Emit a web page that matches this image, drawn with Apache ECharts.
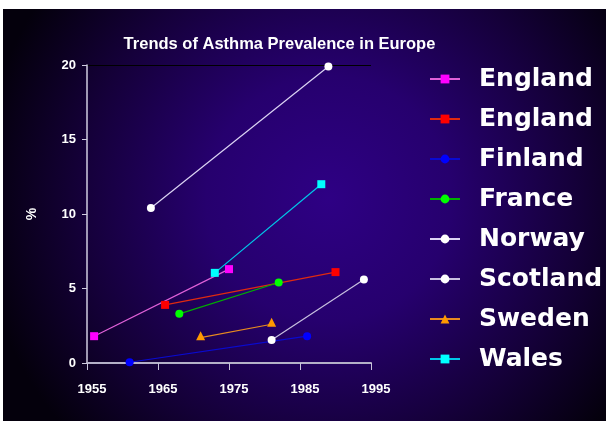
<!DOCTYPE html>
<html>
<head>
<meta charset="utf-8">
<script src="https://cdn.jsdelivr.net/npm/echarts@6/dist/echarts.min.js"></script>
<style>
  html, body { margin: 0; padding: 0; background: #ffffff; }
  #chart-container { width: 606px; height: 423px; }
</style>
</head>
<body>
<div id="chart-container"></div>
<script>
var dom = document.getElementById("chart-container");
var myChart = echarts.init(dom, null, { renderer: "canvas" });

// series names, in legend order
var names = ["England", "England", "Finland", "France", "Norway", "Scotland", "Sweden", "Wales"];

// survey years and prevalence (%) per series
var englandAYears = [1956, 1975];
var englandAVals = [1.8, 6.3];
var englandBYears = [1966, 1990];
var englandBVals = [3.9, 6.1];
var finlandYears = [1961, 1986];
var finlandVals = [0.05, 1.8];
var franceYears = [1968, 1982];
var franceVals = [3.3, 5.4];
var norwayYears = [1964, 1989];
var norwayVals = [10.4, 19.9];
var scotlandYears = [1981, 1994];
var scotlandVals = [1.55, 5.6];
var swedenYears = [1971, 1981];
var swedenVals = [1.7, 2.6];
var walesYears = [1973, 1988];
var walesVals = [6.05, 12];

var xTicks = [1955, 1965, 1975, 1985, 1995];

function pairs(xs, ys) {
  return xs.map(function (x, i) { return [x, ys[i]]; });
}

// marker colour, line colour, symbol
var looks = [
  ["#ff00ff", "#e060d8", "rect"],
  ["#ff0000", "#e02a10", "rect"],
  ["#0000ff", "#0a0ad0", "circle"],
  ["#00ff00", "#00b000", "circle"],
  ["#ffffff", "#dcd4f4", "circle"],
  ["#ffffff", "#c8c0e0", "circle"],
  ["#ff9900", "#e88a20", "triangle"],
  ["#00ffff", "#00c8e8", "rect"]
];

var allData = [
  pairs(englandAYears, englandAVals),
  pairs(englandBYears, englandBVals),
  pairs(finlandYears, finlandVals),
  pairs(franceYears, franceVals),
  pairs(norwayYears, norwayVals),
  pairs(scotlandYears, scotlandVals),
  pairs(swedenYears, swedenVals),
  pairs(walesYears, walesVals)
];

var series = names.map(function (n, i) {
  return {
    name: n + (i === 0 ? " " : ""),
    type: "line",
    data: allData[i],
    symbol: looks[i][2],
    symbolSize: looks[i][2] === "triangle" ? 9 : 8,
    symbolOffset: looks[i][2] === "triangle" ? [0, -2] : [0, 0],
    showAllSymbol: true,
    itemStyle: { color: looks[i][0] },
    lineStyle: { color: looks[i][1], width: 1.2 },
    emphasis: { disabled: true },
    z: 3
  };
});

var option = {
  animation: false,
  graphic: [
    {
      type: "rect",
      z: -10,
      shape: { x: 3, y: 9, width: 603, height: 412 },
      style: {
        fill: {
          type: "radial",
          x: 0.54,
          y: 0.46,
          r: 0.85,
          colorStops: [
            { offset: 0, color: "#2e0084" },
            { offset: 0.35, color: "#26006e" },
            { offset: 0.7, color: "#15003a" },
            { offset: 1, color: "#04000c" }
          ]
        }
      }
    }
  ],
  title: {
    text: "Trends of Asthma Prevalence in Europe",
    left: 274.5,
    top: 31,
    textAlign: "center",
    textStyle: {
      color: "#ffffff",
      fontFamily: "Liberation Sans, Arial",
      fontWeight: "bold",
      fontSize: 16.5
    }
  },
  legend: {
    orient: "vertical",
    left: 429,
    top: 64,
    padding: 0,
    itemWidth: 30,
    itemHeight: 11,
    itemGap: 10,
    inactiveColor: "#ffffff",
    data: series.map(function (s) { return s.name; }),
    textStyle: {
      color: "#ffffff",
      fontFamily: "DejaVu Sans",
      fontWeight: "bold",
      fontSize: 25,
      lineHeight: 30,
      padding: [0, 0, 0, 14]
    }
  },
  grid: { left: 87, right: 235, top: 65, bottom: 60 },
  xAxis: {
    type: "value",
    min: 1955,
    max: 1995,
    axisLine: { lineStyle: { color: "#b4b0c8", width: 2 } },
    axisTick: { customValues: xTicks, length: 7, lineStyle: { color: "#c8c4dc" } },
    axisLabel: {
      customValues: xTicks,
      formatter: function (v) { return String(v); },
      margin: 20,
      padding: [0, 0, 0, 10],
      color: "#ffffff",
      fontFamily: "Liberation Sans, Arial",
      fontWeight: "bold",
      fontSize: 13
    },
    splitLine: { show: false }
  },
  yAxis: {
    type: "value",
    min: 0,
    max: 20,
    interval: 5,
    name: "%",
    nameLocation: "middle",
    nameGap: 48,
    nameTextStyle: {
      color: "#ffffff",
      fontFamily: "Liberation Sans, Arial",
      fontWeight: "bold",
      fontSize: 14
    },
    axisLine: { show: true, lineStyle: { color: "#d0cce0", width: 1.5 } },
    axisTick: { show: true, length: 5, lineStyle: { color: "#d0cce0" } },
    axisLabel: {
      margin: 11,
      color: "#ffffff",
      fontFamily: "Liberation Sans, Arial",
      fontWeight: "bold",
      fontSize: 13
    },
    splitLine: {
      show: true,
      lineStyle: { color: ["rgba(0,0,0,0)", "rgba(0,0,0,0)", "rgba(0,0,0,0)", "rgba(0,0,0,0)", "#000000"] }
    }
  },
  series: series
};

myChart.setOption(option);
window.addEventListener("resize", myChart.resize);
</script>
</body>
</html>
